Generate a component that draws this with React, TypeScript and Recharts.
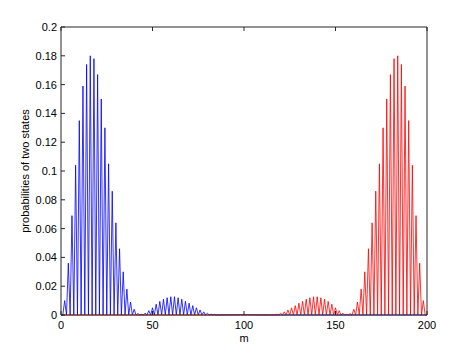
import { LineChart, Line, XAxis, YAxis } from "recharts";

// position index m = 0..200
const M = Array.from({ length: 201 }, (_, i) => i);

// probability of the first state (blue), one value per m
const BLUE = [
  0, 0, 0.01, 0, 0.036, 0, 0.069, 0, 0.104, 0,
  0.135, 0, 0.159, 0, 0.174, 0, 0.18, 0, 0.178, 0,
  0.167, 0, 0.15, 0, 0.13, 0, 0.105, 0, 0.086, 0,
  0.064, 0, 0.046, 0, 0.03, 0, 0.018, 0, 0.009, 0,
  0.004, 0, 0.001, 0, 0.0005, 0, 0.0013, 0, 0.003, 0,
  0.005, 0, 0.0075, 0, 0.0095, 0, 0.011, 0, 0.012, 0,
  0.0127, 0, 0.0127, 0, 0.012, 0, 0.011, 0, 0.0095, 0,
  0.0082, 0, 0.0065, 0, 0.005, 0, 0.0035, 0, 0.0022, 0,
  0.0012, 0, 0.0006, 0, 0.0003, 0, 0.0002, 0, 0.0003, 0,
  0.0003, 0, 0.0002, 0, 0.0003, 0, 0.0002, 0, 0.0003, 0,
  0.0003, 0, 0.0002, 0, 0.0002, 0, 0.0001, 0, 0.0001, 0,
  0, 0, 0, 0, 0, 0, 0, 0, 0, 0,
  0, 0, 0, 0, 0, 0, 0, 0, 0, 0,
  0, 0, 0, 0, 0, 0, 0, 0, 0, 0,
  0, 0, 0, 0, 0, 0, 0, 0, 0, 0,
  0, 0, 0, 0, 0, 0, 0, 0, 0, 0,
  0, 0, 0, 0, 0, 0, 0, 0, 0, 0,
  0, 0, 0, 0, 0, 0, 0, 0, 0, 0,
  0, 0, 0, 0, 0, 0, 0, 0, 0, 0,
  0, 0, 0, 0, 0, 0, 0, 0, 0, 0,
  0,
];

// probability of the second state (red)
const RED = [
  0, 0, 0, 0, 0, 0, 0, 0, 0, 0,
  0, 0, 0, 0, 0, 0, 0, 0, 0, 0,
  0, 0, 0, 0, 0, 0, 0, 0, 0, 0,
  0, 0, 0, 0, 0, 0, 0, 0, 0, 0,
  0, 0, 0, 0, 0, 0, 0, 0, 0, 0,
  0, 0, 0, 0, 0, 0, 0, 0, 0, 0,
  0, 0, 0, 0, 0, 0, 0, 0, 0, 0,
  0, 0, 0, 0, 0, 0, 0, 0, 0, 0,
  0, 0, 0, 0, 0, 0, 0, 0, 0, 0,
  0, 0, 0.0001, 0, 0.0001, 0, 0.0002, 0, 0.0002, 0,
  0.0003, 0, 0.0003, 0, 0.0002, 0, 0.0003, 0, 0.0002, 0,
  0.0003, 0, 0.0003, 0, 0.0002, 0, 0.0003, 0, 0.0006, 0,
  0.0012, 0, 0.0022, 0, 0.0035, 0, 0.005, 0, 0.0065, 0,
  0.0082, 0, 0.0095, 0, 0.011, 0, 0.012, 0, 0.0127, 0,
  0.0127, 0, 0.012, 0, 0.011, 0, 0.0095, 0, 0.0075, 0,
  0.005, 0, 0.003, 0, 0.0013, 0, 0.0005, 0, 0.001, 0,
  0.004, 0, 0.009, 0, 0.018, 0, 0.03, 0, 0.046, 0,
  0.064, 0, 0.086, 0, 0.105, 0, 0.13, 0, 0.15, 0,
  0.167, 0, 0.178, 0, 0.18, 0, 0.174, 0, 0.159, 0,
  0.135, 0, 0.104, 0, 0.069, 0, 0.036, 0, 0.01, 0,
  0,
];

const X_TICKS = [0, 50, 100, 150, 200];
const Y_TICKS = [0, 0.02, 0.04, 0.06, 0.08, 0.1, 0.12, 0.14, 0.16, 0.18, 0.2];

const DATA = M.map((m, i) => ({ m, blue: BLUE[i], red: RED[i] }));

const AXIS = "#262626";
const FONT = "'Liberation Sans', Arial, Helvetica, sans-serif";
const TICK_LEN = 4;

// MATLAB style: tick marks point into the plot box, labels sit outside
const BottomTick = ({ x, y, payload }: any) => (
  <g>
    <line x1={x} y1={y} x2={x} y2={y - TICK_LEN} stroke={AXIS} />
    <text x={x} y={y + 14} textAnchor="middle" fontSize={11} fontFamily={FONT} fill="#000">
      {payload.value}
    </text>
  </g>
);

const TopTick = ({ x, y }: any) => <line x1={x} y1={y} x2={x} y2={y + TICK_LEN} stroke={AXIS} />;

const LeftTick = ({ x, y, payload }: any) => (
  <g>
    <line x1={x} y1={y} x2={x + TICK_LEN} y2={y} stroke={AXIS} />
    <text x={x - 4} y={y + 4} textAnchor="end" fontSize={11} fontFamily={FONT} fill="#000">
      {payload.value}
    </text>
  </g>
);

const RightTick = ({ x, y }: any) => <line x1={x} y1={y} x2={x - TICK_LEN} y2={y} stroke={AXIS} />;

export default function App() {
  return (
    <div style={{ position: "absolute", left: 0, top: 0, width: 471, height: 355, background: "#fff" }}>
      <LineChart width={471} height={355} data={DATA} margin={{ top: 22, right: 39, bottom: 10, left: 11 }}>
        <XAxis
          dataKey="m"
          type="number"
          domain={[0, 200]}
          ticks={X_TICKS}
          interval={0}
          height={30}
          tickSize={0}
          tickMargin={0}
          tickLine={false}
          axisLine={{ stroke: AXIS }}
          tick={(p: any) => <BottomTick {...p} />}
          label={{ value: "m", position: "insideBottom", offset: 3, fontSize: 11, fontFamily: FONT, fill: "#000" }}
        />
        <XAxis
          xAxisId="top"
          orientation="top"
          dataKey="m"
          type="number"
          domain={[0, 200]}
          ticks={X_TICKS}
          interval={0}
          height={5}
          tickSize={0}
          tickMargin={0}
          tickLine={false}
          axisLine={{ stroke: AXIS }}
          tick={(p: any) => <TopTick {...p} />}
        />
        <YAxis
          type="number"
          domain={[0, 0.2]}
          ticks={Y_TICKS}
          interval={0}
          width={50}
          tickSize={0}
          tickMargin={0}
          tickLine={false}
          axisLine={{ stroke: AXIS }}
          tick={(p: any) => <LeftTick {...p} />}
          label={{
            value: "probabilities of two states",
            angle: -90,
            position: "center",
            dx: -11,
            fontSize: 11,
            fontFamily: FONT,
            fill: "#000",
          }}
        />
        <YAxis
          yAxisId="right"
          orientation="right"
          type="number"
          domain={[0, 0.2]}
          ticks={Y_TICKS}
          interval={0}
          width={5}
          tickSize={0}
          tickMargin={0}
          tickLine={false}
          axisLine={{ stroke: AXIS }}
          tick={(p: any) => <RightTick {...p} />}
        />
        <Line type="linear" dataKey="blue" stroke="#0000ff" strokeWidth={0.8} dot={false} isAnimationActive={false} />
        <Line type="linear" dataKey="red" stroke="#ff0000" strokeWidth={0.8} dot={false} isAnimationActive={false} />
      </LineChart>
    </div>
  );
}
